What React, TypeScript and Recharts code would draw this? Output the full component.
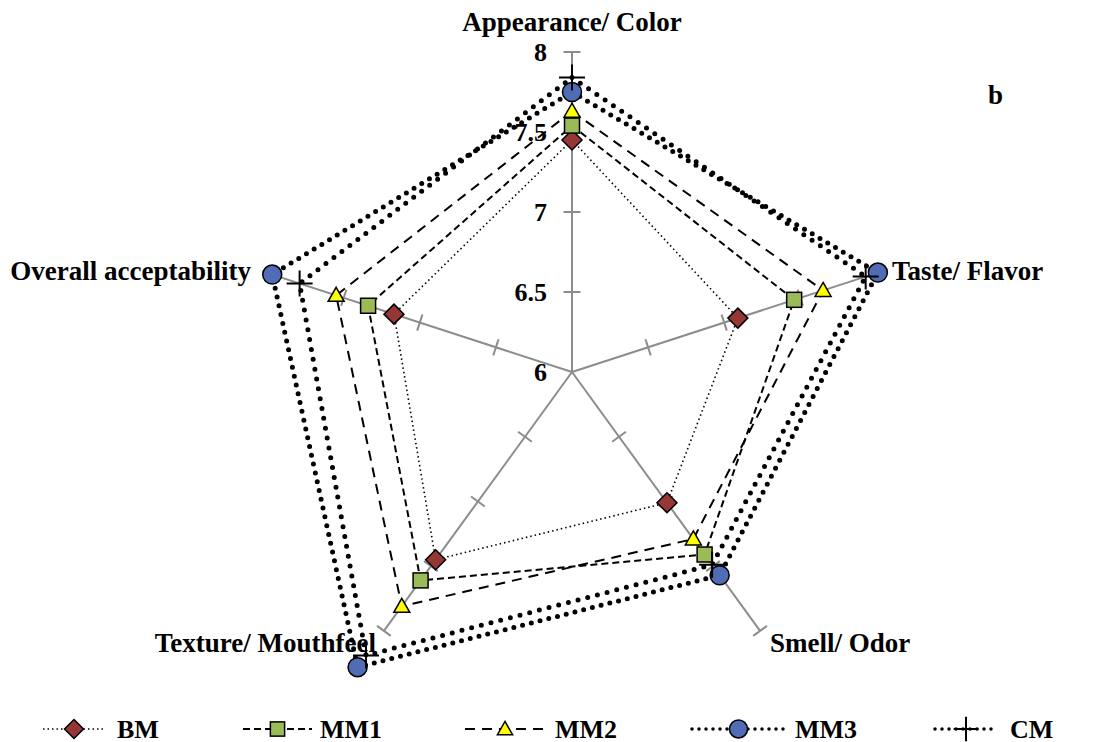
import {
  RadarChart,
  Radar,
  PolarAngleAxis,
  PolarRadiusAxis,
  Legend,
  Customized,
} from "recharts";

const categories = [
  "Appearance/ Color",
  "Taste/ Flavor",
  "Smell/ Odor",
  "Texture/ Mouthfeel",
  "Overall acceptability",
];
const seriesNames = ["BM", "MM1", "MM2", "MM3", "CM"];
const bm = [7.45, 7.09, 7.01, 7.45, 7.17];
const mm1 = [7.54, 7.46, 7.41, 7.61, 7.34];
const mm2 = [7.63, 7.65, 7.29, 7.81, 7.55];
const mm3 = [7.75, 8.01, 7.57, 8.28, 7.97];
const cm = [7.84, 7.93, 7.49, 8.19, 7.79];
const radiusTicks = [6, 6.5, 7, 7.5, 8];

const values = [bm, mm1, mm2, mm3, cm];
const data = categories.map((category, i) => {
  const row: Record<string, string | number> = { category };
  seriesNames.forEach((name, s) => (row[name] = values[s][i]));
  return row;
});

const FONT = "'Liberation Serif', 'Times New Roman', serif";
const GRID = "#8c8c8c";
const CX = 572;
const CY = 372;
const R = 320;
const AXIS_ANGLES = [90, 18, -54, -126, 162];

type Kind = "diamond" | "square" | "triangle" | "circle" | "plus";
const STYLES: { dash: string; width: number; cap: "butt" | "round"; kind: Kind; fill: string }[] = [
  { dash: "1.5 3", width: 1.6, cap: "butt", kind: "diamond", fill: "#953735" },
  { dash: "7 4", width: 2, cap: "butt", kind: "square", fill: "#9bbb59" },
  { dash: "10 7", width: 2, cap: "butt", kind: "triangle", fill: "#ffff00" },
  { dash: "0 9", width: 5, cap: "round", kind: "circle", fill: "#4f6cb5" },
  { dash: "0 10", width: 5, cap: "round", kind: "plus", fill: "#000" },
];

const LABEL_POS: { x: number; y: number; anchor: "middle" | "start" | "end" }[] = [
  { x: 572, y: 31, anchor: "middle" },
  { x: 892, y: 280, anchor: "start" },
  { x: 770, y: 652, anchor: "start" },
  { x: 376, y: 652, anchor: "end" },
  { x: 251, y: 280, anchor: "end" },
];

const LEGEND_POS = [
  { x0: 43, x1: 105, label: 117 },
  { x0: 243, x1: 312, label: 320 },
  { x0: 465, x1: 545, label: 555 },
  { x0: 692, x1: 785, label: 795 },
  { x0: 935, x1: 997, label: 1010 },
];

const Marker = ({ kind, x, y, fill, scale = 1 }: { kind: Kind; x: number; y: number; fill: string; scale?: number }) => {
  const s = scale;
  switch (kind) {
    case "diamond":
      return (
        <polygon
          points={`${x},${y - 10 * s} ${x + 10 * s},${y} ${x},${y + 10 * s} ${x - 10 * s},${y}`}
          fill={fill}
          stroke="#000"
          strokeWidth={1.5}
        />
      );
    case "square":
      return <rect x={x - 7.5 * s} y={y - 7.5 * s} width={15 * s} height={15 * s} fill={fill} stroke="#000" strokeWidth={1.5} />;
    case "triangle":
      return (
        <polygon
          points={`${x},${y - 8 * s} ${x + 8 * s},${y + 6 * s} ${x - 8 * s},${y + 6 * s}`}
          fill={fill}
          stroke="#000"
          strokeWidth={1.5}
        />
      );
    case "circle":
      return <circle cx={x} cy={y} r={9.5 * s} fill={fill} stroke="#000" strokeWidth={1.5} />;
    default:
      return (
        <path
          d={`M${x - 13 * s},${y}H${x + 13 * s}M${x},${y - 13 * s}V${y + 13 * s}`}
          stroke="#000"
          strokeWidth={2}
          fill="none"
        />
      );
  }
};

const RadiusTick = (props: any) => {
  const { x, y, payload, axisAngle, showLabel } = props;
  const a = (axisAngle * Math.PI) / 180;
  const px = Math.sin(a) * 8.5;
  const py = Math.cos(a) * 8.5;
  return (
    <g>
      {payload.value > 6 && (
        <line x1={x - px} y1={y - py} x2={x + px} y2={y + py} stroke={GRID} strokeWidth={2} />
      )}
      {showLabel && (
        <text x={x - 25} y={y + 9} textAnchor="end" fontFamily={FONT} fontWeight="bold" fontSize={26} fill="#000">
          {payload.value}
        </text>
      )}
    </g>
  );
};

const AngleTick = (props: any) => {
  const pos = LABEL_POS[props.index];
  return (
    <text x={pos.x} y={pos.y} textAnchor={pos.anchor} fontFamily={FONT} fontWeight="bold" fontSize={27} fill="#000">
      {props.payload.value}
    </text>
  );
};

const LegendContent = () => (
  <svg width={1096} height={40}>
    {seriesNames.map((name, i) => {
      const st = STYLES[i];
      const p = LEGEND_POS[i];
      const mid = (p.x0 + p.x1) / 2;
      const small = st.width > 3;
      return (
        <g key={name}>
          <line
            x1={p.x0}
            y1={20}
            x2={p.x1}
            y2={20}
            stroke="#000"
            strokeWidth={small ? 3.5 : st.width}
            strokeDasharray={small ? "0 7" : st.dash}
            strokeLinecap={st.cap}
          />
          <Marker kind={st.kind} x={mid} y={20} fill={st.fill} scale={0.95} />
          <text x={p.label} y={29} fontFamily={FONT} fontWeight="bold" fontSize={26} fill="#000">
            {name}
          </text>
        </g>
      );
    })}
  </svg>
);

export default function App() {
  return (
    <div style={{ width: 1096, height: 742, background: "#fff" }}>
      <style>{"body{margin:0}"}</style>
      <RadarChart
        width={1096}
        height={742}
        data={data}
        cx={CX}
        cy={CY}
        outerRadius={R}
        margin={{ top: 0, right: 0, bottom: 0, left: 0 }}
      >
        <PolarAngleAxis dataKey="category" axisLine={false} tickLine={false} tick={AngleTick} />
        {AXIS_ANGLES.map((angle, i) => (
          <PolarRadiusAxis
            key={angle}
            radiusAxisId={i === 0 ? 0 : `r${i}`}
            angle={angle}
            type="number"
            domain={[6, 8]}
            ticks={radiusTicks as any}
            tickCount={5}
            allowDataOverflow
            axisLine={{ stroke: GRID, strokeWidth: 2 }}
            stroke={GRID}
            tick={(p: any) => <RadiusTick {...p} axisAngle={angle} showLabel={i === 0} />}
          />
        ))}
        {seriesNames.map((name, i) => {
          const st = STYLES[i];
          return (
            <Radar
              key={name}
              name={name}
              dataKey={name}
              stroke="#000"
              strokeWidth={st.width}
              strokeDasharray={st.dash}
              strokeLinecap={st.cap}
              fill="none"
              fillOpacity={0}
              isAnimationActive={false}
              dot={(p: any) => <Marker key={`${name}-${p.index}`} kind={st.kind} x={p.cx} y={p.cy} fill={st.fill} />}
            />
          );
        })}
        <Customized
          component={() => (
            <text x={988} y={104} fontFamily={FONT} fontWeight="bold" fontSize={27} fill="#000">
              b
            </text>
          )}
        />
        <Legend
          content={LegendContent}
          wrapperStyle={{ position: "absolute", left: 0, top: 709, width: 1096, height: 40 }}
        />
      </RadarChart>
    </div>
  );
}
